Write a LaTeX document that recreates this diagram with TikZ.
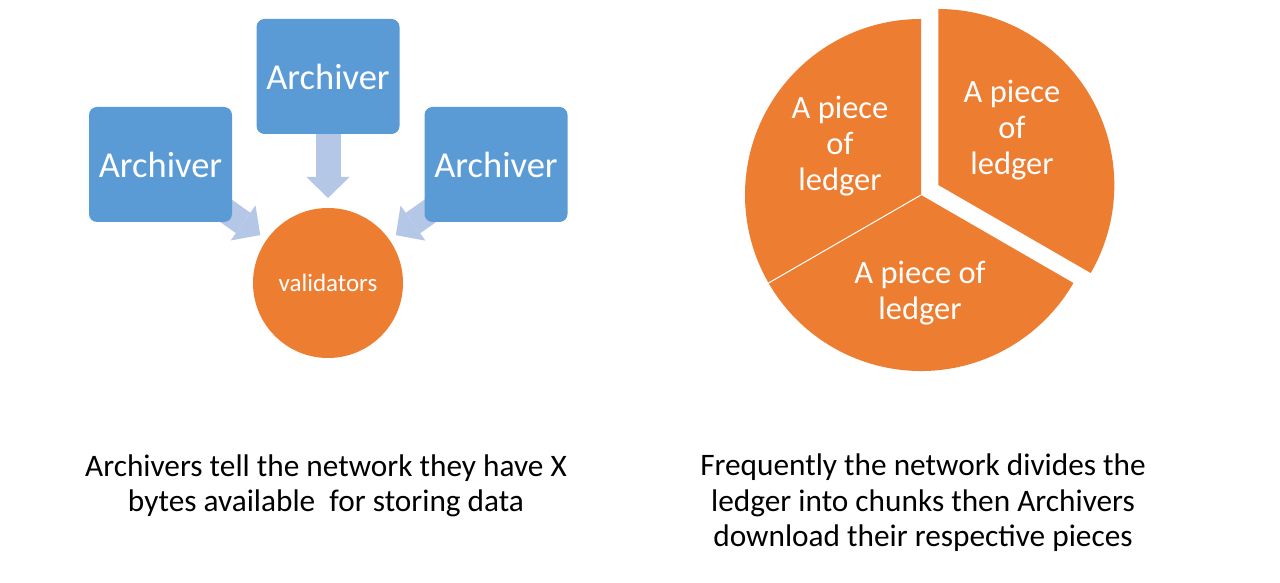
\documentclass[tikz,border=0pt]{standalone}
\usepackage{fontspec}
\setmainfont{Carlito}
\usetikzlibrary{arrows.meta}
\definecolor{boxblue}{HTML}{5B9BD5}
\definecolor{accorange}{HTML}{ED7D31}
\definecolor{arrowblue}{HTML}{B4C7E7}
\pgfdeclarelayer{bg}
\pgfdeclarelayer{arrowlayer}
\pgfsetlayers{bg,arrowlayer,main}
\begin{document}
\begin{tikzpicture}[x=1pt,y=1pt,
  archbox/.style={fill=boxblue, rounded corners=8pt, minimum width=143pt, minimum height=115pt, inner sep=0pt, outer sep=0pt, text=white, font=\fontsize{36.5}{42}\selectfont},
  hub/.style={circle, fill=accorange, minimum size=150pt, inner sep=0pt, outer sep=0pt, text=white, font=\fontsize{25}{29}\selectfont},
  feed/.style={draw=arrowblue, line width=25pt, -{Triangle[length=21pt,width=43pt,line width=0pt]}},
  slice/.style={fill=accorange},
  slicelabel/.style={text=white, align=center, font=\fontsize{32.5}{36}\selectfont},
  caption/.style={align=center, font=\fontsize{31.3}{35.5}\selectfont}]
\begin{pgfonlayer}{bg}
\fill[white] (0,0) rectangle (1280,583);
\end{pgfonlayer}
\useasboundingbox (0,0) rectangle (1280,583);

% left diagram
\node[hub] (val) at (328,300) {validators};
\node[archbox] (lbox) at (160.5,418.5) {Archiver};
\node[archbox] (mbox) at (328,506.5) {Archiver};
\node[archbox] (rbox) at (496,418.5) {Archiver};
\begin{pgfonlayer}{arrowlayer}
\draw[feed, shorten >=8pt] (lbox.center) -- (val);
\draw[feed, shorten >=10pt] (mbox.center) -- (val);
\draw[feed, shorten >=8pt] (rbox.center) -- (val);
\end{pgfonlayer}

% pie
\coordinate (pc) at (921,388);
\coordinate (pe) at (938.3,398);
\fill[slice] (pc) -- ++(90:176) arc[start angle=90,end angle=210,radius=176] -- cycle;
\fill[slice] (pc) -- ++(210:176) arc[start angle=210,end angle=330,radius=176] -- cycle;
\fill[slice] (pe) -- ++(-30:176) arc[start angle=-30,end angle=90,radius=176] -- cycle;
\draw[white, line width=1pt] (pc) -- ++(210:177);
\node[slicelabel] (pl) at (840,437) {A piece\\of\\ledger};
\node[slicelabel] (pr) at (1012,453) {A piece\\of\\ledger};
\node[slicelabel] (pb) at (920,290) {A piece of\\ledger};

% captions
\node[caption] (capl) at (326,97) {Archivers tell the network they have X\\bytes available\ \ for storing data};
\node[caption] (capr) at (923,80) {Frequently the network divides the\\ledger into chunks then Archivers\\download their respective pieces};
\end{tikzpicture}
\end{document}
